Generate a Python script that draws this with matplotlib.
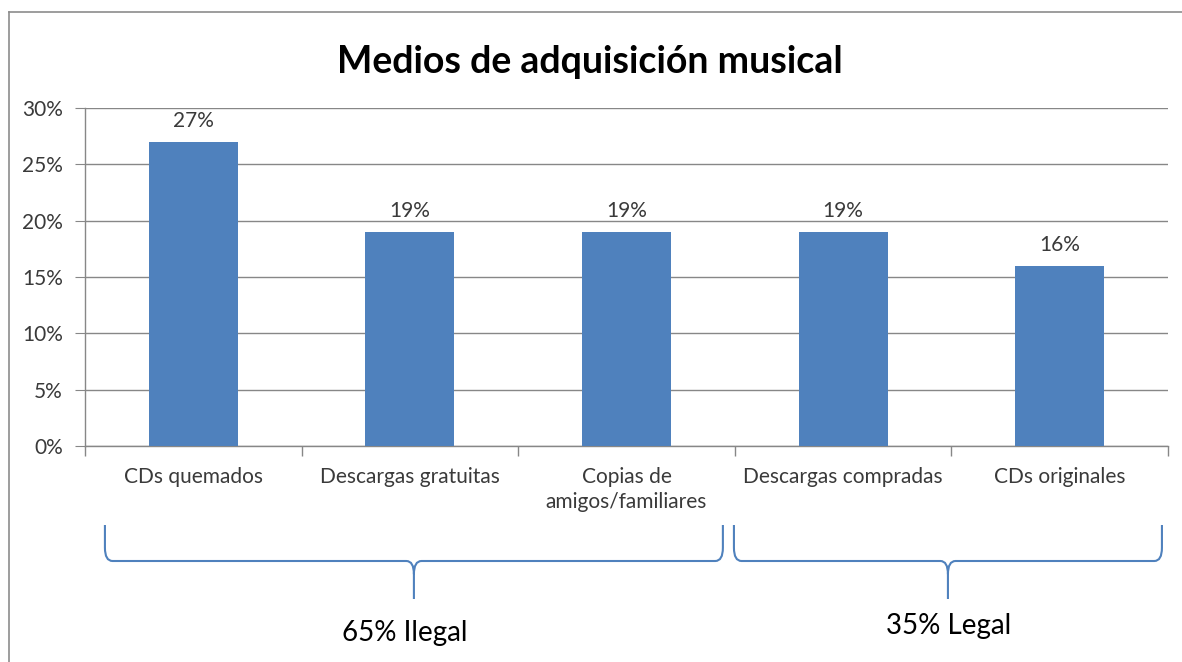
import matplotlib
matplotlib.use("Agg")
import matplotlib.pyplot as plt
from matplotlib.path import Path
from matplotlib.patches import PathPatch
from matplotlib.lines import Line2D
from matplotlib.transforms import blended_transform_factory

categories = ["CDs quemados", "Descargas gratuitas", "Copias de\namigos/familiares",
              "Descargas compradas", "CDs originales"]
values = [27, 19, 19, 19, 16]
yticks = [0, 5, 10, 15, 20, 25, 30]
groups = [("65% Ilegal", 0, 2), ("35% Legal", 3, 4)]

BAR = "#4F81BD"
GRID = "#878787"
TEXT = "#3a3a3a"

plt.rcParams["font.family"] = ["Lato", "DejaVu Sans"]

fig = plt.figure(figsize=(11.82, 6.62), dpi=100)
ax = fig.add_axes([85 / 1182, 1 - 446 / 662, (1168 - 85) / 1182, (446 - 108) / 662])

x = range(len(categories))
ax.bar(x, values, width=0.41, color=BAR, zorder=3)
for i, v in zip(x, values):
    ax.annotate(f"{v}%", (i, v), xytext=(0, 8), textcoords="offset points",
                ha="center", va="bottom", fontsize=15, color=TEXT)

ax.set_xlim(-0.5, len(categories) - 0.5)
ax.set_ylim(0, 30)
ax.set_yticks(yticks)
ax.set_yticklabels([f"{t}%" for t in yticks], fontsize=15, color=TEXT)
ax.yaxis.grid(True, color=GRID, linewidth=1, zorder=0)
ax.tick_params(axis="y", length=7, color=GRID, pad=9)

# category labels sit between the boundary ticks
ax.set_xticks(list(x))
ax.set_xticklabels(categories, fontsize=15, color=TEXT, va="top", linespacing=1.35)
ax.tick_params(axis="x", length=0, pad=15)
ax.set_xticks([i - 0.5 for i in range(len(categories) + 1)], minor=True)
ax.tick_params(axis="x", which="minor", length=7, color=GRID, width=1)

for side in ["top", "right"]:
    ax.spines[side].set_visible(False)
for side in ["left", "bottom"]:
    ax.spines[side].set_color(GRID)
    ax.spines[side].set_linewidth(1)

# outer frame (left and top edges)
fig.add_artist(Line2D([9 / 1182, 9 / 1182], [0, 1 - 12 / 662], transform=fig.transFigure,
                      color="#8c8c8c", linewidth=1.2))
fig.add_artist(Line2D([9 / 1182, 1], [1 - 12 / 662, 1 - 12 / 662], transform=fig.transFigure,
                      color="#8c8c8c", linewidth=1.2))

fig.text(590 / 1182, 1 - 62 / 662, "Medios de adquisición musical", ha="center", va="center",
         fontsize=27, fontweight="bold", color="black")

# curly braces under the category groups
trans = blended_transform_factory(ax.transData, fig.transFigure)


def brace(x0, x1, y_top, y_mid, y_tip, rx=0.035, ry=0.02):
    xm = (x0 + x1) / 2
    verts = [
        (x0, y_top), (x0, y_mid + ry),
        (x0, y_mid), (x0 + rx, y_mid),
        (xm - rx, y_mid),
        (xm, y_mid), (xm, y_mid - ry),
        (xm, y_tip),
        (xm, y_mid - ry),
        (xm, y_mid), (xm + rx, y_mid),
        (x1 - rx, y_mid),
        (x1, y_mid), (x1, y_mid + ry),
        (x1, y_top),
    ]
    codes = [Path.MOVETO, Path.LINETO,
             Path.CURVE3, Path.CURVE3,
             Path.LINETO,
             Path.CURVE3, Path.CURVE3,
             Path.LINETO,
             Path.MOVETO,
             Path.CURVE3, Path.CURVE3,
             Path.LINETO,
             Path.CURVE3, Path.CURVE3,
             Path.LINETO]
    fig.add_artist(PathPatch(Path(verts, codes), transform=trans, fill=False,
                             edgecolor=BAR, linewidth=1.5))
    return xm


y_top = 1 - 525 / 662
y_mid = 1 - 561 / 662
y_tip = 1 - 599 / 662
insets = [(0.092, 0.055), (-0.004, 0.028)]
label_shift = [-0.04, 0.005]
label_y = [1 - 633 / 662, 1 - 626 / 662]
for (label, first, last), (li, ri), dx, ly in zip(groups, insets, label_shift, label_y):
    xm = brace(first - 0.5 + li, last + 0.5 - ri, y_top, y_mid, y_tip)
    fig.text(xm + dx, ly, label, transform=trans, ha="center", va="center",
             fontsize=20, color="black")

fig.savefig("out.png", dpi=100, facecolor="white")
